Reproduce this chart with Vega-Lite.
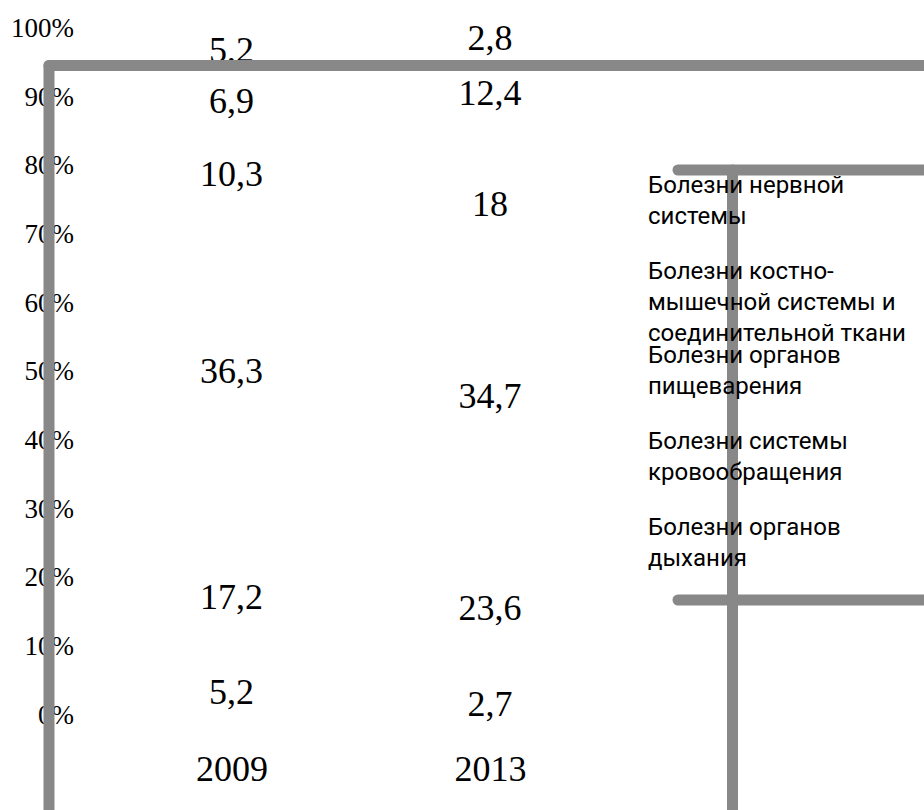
{
  "$schema": "https://vega.github.io/schema/vega-lite/v6.json",
  "width": 924,
  "height": 810,
  "autosize": {"type": "none"},
  "padding": 0,
  "background": "white",
  "config": {
    "view": {"stroke": null},
    "locale": {"number": {"decimal": ",", "thousands": " ", "grouping": [3], "currency": ["", " ₽"]}},
    "style": {"guide-label": {"lineHeight": 31}}
  },
  "datasets": {
    "causes": [
      {"year": 2009, "series": 1, "category": "Прочие", "value": 5.2},
      {"year": 2009, "series": 2, "category": "Болезни органов дыхания", "value": 17.2},
      {"year": 2009, "series": 3, "category": "Болезни системы кровообращения", "value": 36.3},
      {"year": 2009, "series": 4, "category": "Болезни органов пищеварения", "value": 10.3},
      {"year": 2009, "series": 5, "category": "Болезни костно-мышечной системы и соединительной ткани", "value": 6.9},
      {"year": 2009, "series": 6, "category": "Болезни нервной системы", "value": 5.2},
      {"year": 2013, "series": 1, "category": "Прочие", "value": 2.7},
      {"year": 2013, "series": 2, "category": "Болезни органов дыхания", "value": 23.6},
      {"year": 2013, "series": 3, "category": "Болезни системы кровообращения", "value": 34.7},
      {"year": 2013, "series": 4, "category": "Болезни органов пищеварения", "value": 18},
      {"year": 2013, "series": 5, "category": "Болезни костно-мышечной системы и соединительной ткани", "value": 12.4},
      {"year": 2013, "series": 6, "category": "Болезни нервной системы", "value": 2.8}
    ],
    "legendTop": [
      {"category": "Болезни нервной системы"},
      {"category": "Болезни костно-мышечной системы и соединительной ткани"}
    ],
    "legendBottom": [
      {"category": "Болезни органов пищеварения"},
      {"category": "Болезни системы кровообращения"},
      {"category": "Болезни органов дыхания"}
    ]
  },
  "layer": [
    {
      "data": {"name": "causes"},
      "transform": [
        {"stack": "value", "groupby": ["year"], "sort": [{"field": "series", "order": "ascending"}], "offset": "normalize", "as": ["y0", "y1"]},
        {"calculate": "(datum.y0 + datum.y1) / 2", "as": "mid"}
      ],
      "mark": {"type": "text", "font": "Liberation Serif", "fontSize": 36, "align": "center", "baseline": "middle", "color": "black"},
      "encoding": {
        "x": {
          "field": "year", "type": "quantitative",
          "scale": {"domain": [2005.4178, 2019.7157], "nice": false, "zero": false},
          "axis": {"values": [2009, 2013], "format": "d", "title": null, "domain": false, "ticks": false, "grid": false,
                   "labelFont": "Liberation Serif", "labelFontSize": 36, "labelColor": "black", "labelBaseline": "middle",
                   "labelPadding": 0, "offset": -40.5, "labelFlush": false, "labelOverlap": false}
        },
        "y": {
          "field": "mid", "type": "quantitative",
          "scale": {"domain": [-0.13838, 1.04152], "nice": false, "zero": false},
          "axis": {"values": [0, 0.1, 0.2, 0.3, 0.4, 0.5, 0.6, 0.7, 0.8, 0.9, 1], "format": ".0%", "title": null, "domain": false, "ticks": false, "grid": false,
                   "labelFont": "Liberation Serif", "labelFontSize": 27, "labelColor": "black", "labelAlign": "right", "labelBaseline": "middle",
                   "labelPadding": 0, "offset": -73.5, "labelFlush": false, "labelOverlap": false}
        },
        "text": {"field": "value", "type": "quantitative", "format": ".3~g"}
      }
    },
    {
      "data": {"name": "legendTop"},
      "mark": {"type": "point", "opacity": 0},
      "encoding": {
        "color": {
          "field": "category", "type": "nominal",
          "scale": {"domain": ["Болезни нервной системы", "Болезни костно-мышечной системы и соединительной ткани"], "range": ["black", "black"]},
          "legend": {
            "orient": "none", "legendX": 648, "legendY": 143, "title": null, "padding": 0,
            "symbolSize": 0, "symbolOpacity": 0, "symbolStrokeWidth": 0,
            "labelFont": "Roboto", "labelFontSize": 24, "labelColor": "black", "labelLimit": 600, "labelOffset": -24,
            "labelBaseline": "middle", "clipHeight": 85, "rowPadding": 0,
            "labelExpr": "datum.label == 'Болезни нервной системы' ? ['Болезни нервной', 'системы'] : ['Болезни костно-', 'мышечной системы и', 'соединительной ткани']"
          }
        }
      }
    },
    {
      "data": {"name": "legendBottom"},
      "mark": {"type": "point", "opacity": 0},
      "encoding": {
        "shape": {
          "field": "category", "type": "nominal",
          "scale": {"domain": ["Болезни органов пищеварения", "Болезни системы кровообращения", "Болезни органов дыхания"]},
          "legend": {
            "orient": "none", "legendX": 648, "legendY": 313, "title": null, "padding": 0,
            "symbolSize": 0, "symbolOpacity": 0, "symbolStrokeWidth": 0,
            "labelFont": "Roboto", "labelFontSize": 24, "labelColor": "black", "labelLimit": 600, "labelOffset": -24,
            "labelBaseline": "middle", "clipHeight": 85, "rowPadding": 0,
            "labelExpr": "datum.label == 'Болезни органов пищеварения' ? ['Болезни органов', 'пищеварения'] : datum.label == 'Болезни системы кровообращения' ? ['Болезни системы', 'кровообращения'] : ['Болезни органов', 'дыхания']"
          }
        }
      }
    },
    {
      "data": {"values": [{}]},
      "mark": {"type": "rule", "color": "#888888", "strokeWidth": 11, "strokeCap": "round", "clip": true},
      "encoding": {"x": {"datum": 2006.176, "type": "quantitative"}, "x2": {"datum": 2021}, "y": {"datum": 0.9461, "type": "quantitative"}}
    },
    {
      "data": {"values": [{}]},
      "mark": {"type": "rule", "color": "#888888", "strokeWidth": 11, "strokeCap": "round", "clip": true},
      "encoding": {"x": {"datum": 2006.176, "type": "quantitative"}, "y": {"datum": 0.9461, "type": "quantitative"}, "y2": {"datum": -0.3}}
    },
    {
      "data": {"values": [{}]},
      "mark": {"type": "rule", "color": "#888888", "strokeWidth": 11, "strokeCap": "round", "clip": true},
      "encoding": {"x": {"datum": 2015.909, "type": "quantitative"}, "x2": {"datum": 2021}, "y": {"datum": 0.7939, "type": "quantitative"}}
    },
    {
      "data": {"values": [{}]},
      "mark": {"type": "rule", "color": "#888888", "strokeWidth": 11, "strokeCap": "round", "clip": true},
      "encoding": {"x": {"datum": 2015.909, "type": "quantitative"}, "x2": {"datum": 2021}, "y": {"datum": 0.1675, "type": "quantitative"}}
    },
    {
      "data": {"values": [{}]},
      "mark": {"type": "rule", "color": "#888888", "strokeWidth": 11, "strokeCap": "round", "clip": true},
      "encoding": {"x": {"datum": 2016.7524, "type": "quantitative"}, "y": {"datum": 0.7939, "type": "quantitative"}, "y2": {"datum": -0.3}}
    }
  ]
}
